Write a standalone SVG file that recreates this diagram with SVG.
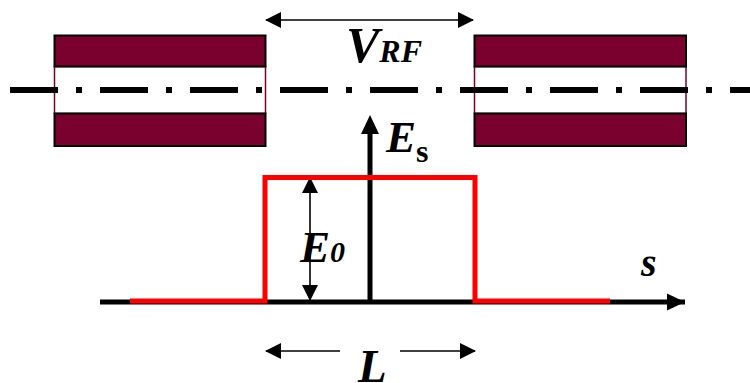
<svg xmlns="http://www.w3.org/2000/svg" width="750" height="383" viewBox="0 0 750 383">
<style>
.bar{fill:#7a002e;stroke:#000;stroke-width:2}
.gap{fill:#fff;stroke:#7a002e;stroke-width:1.5}
.t{font-family:"Liberation Serif","Times New Roman",serif;font-weight:bold;font-style:italic;fill:#000}
.thin{stroke:#000;stroke-width:1.6;fill:none}
.red{stroke:#ff0000;stroke-width:5;fill:none}
</style>
<defs>
<marker id="ah" viewBox="0 0 16 16" refX="15" refY="8" markerWidth="16" markerHeight="16" markerUnits="userSpaceOnUse" orient="auto-start-reverse">
<path d="M0,0 L16,8 L0,16 z" fill="#000"/>
</marker>
</defs>
<rect width="750" height="383" fill="#fff"/>
<g id="pipe-left">
<rect class="gap" x="54.5" y="66.5" width="211" height="47"/>
<rect class="bar" x="54.5" y="35.5" width="211" height="31"/>
<rect class="bar" x="54.5" y="113.5" width="211" height="32.5"/>
</g>
<g id="pipe-right">
<rect class="gap" x="474.5" y="66.5" width="211.5" height="47"/>
<rect class="bar" x="474.5" y="35.5" width="211.5" height="31"/>
<rect class="bar" x="474.5" y="113.5" width="211.5" height="32.5"/>
</g>
<g id="axis-line">
<line x1="10" y1="90" x2="750" y2="90" stroke="#000" stroke-width="6" stroke-dasharray="48 18 6 18"/>
</g>
<g id="connectors">
<line class="thin" x1="266" y1="20" x2="473" y2="20" marker-start="url(#ah)" marker-end="url(#ah)"/>
<line x1="100" y1="302" x2="685" y2="302" stroke="#000" stroke-width="5"/>
<path d="M685,302 L667,293.5 L667,310.5 z" fill="#000"/>
<line x1="370" y1="302" x2="370" y2="130" stroke="#000" stroke-width="5"/>
<path d="M370,115 L361,134 L379,134 z" fill="#000"/>
<line class="thin" x1="310" y1="178" x2="310" y2="300" marker-start="url(#ah)" marker-end="url(#ah)"/>
<line class="thin" x1="340" y1="351" x2="266" y2="351" marker-end="url(#ah)"/>
<line class="thin" x1="400" y1="351" x2="475" y2="351" marker-end="url(#ah)"/>
</g>
<g id="pulse">
<polyline class="red" points="130,301 265,301 265,177.5 475,177.5 475,301 610,301"/>
</g>
<g id="labels">
<text class="t" x="346" y="62" font-size="50">V<tspan font-size="32">RF</tspan></text>
<text class="t" x="386" y="152" font-size="45">E<tspan font-style="normal" font-size="32" dy="10">s</tspan></text>
<text class="t" x="300" y="262" font-size="45">E<tspan font-size="30">0</tspan></text>
<text class="t" x="641" y="276" font-size="40">s</text>
<text class="t" x="358" y="382" font-size="47">L</text>
</g>
</svg>
